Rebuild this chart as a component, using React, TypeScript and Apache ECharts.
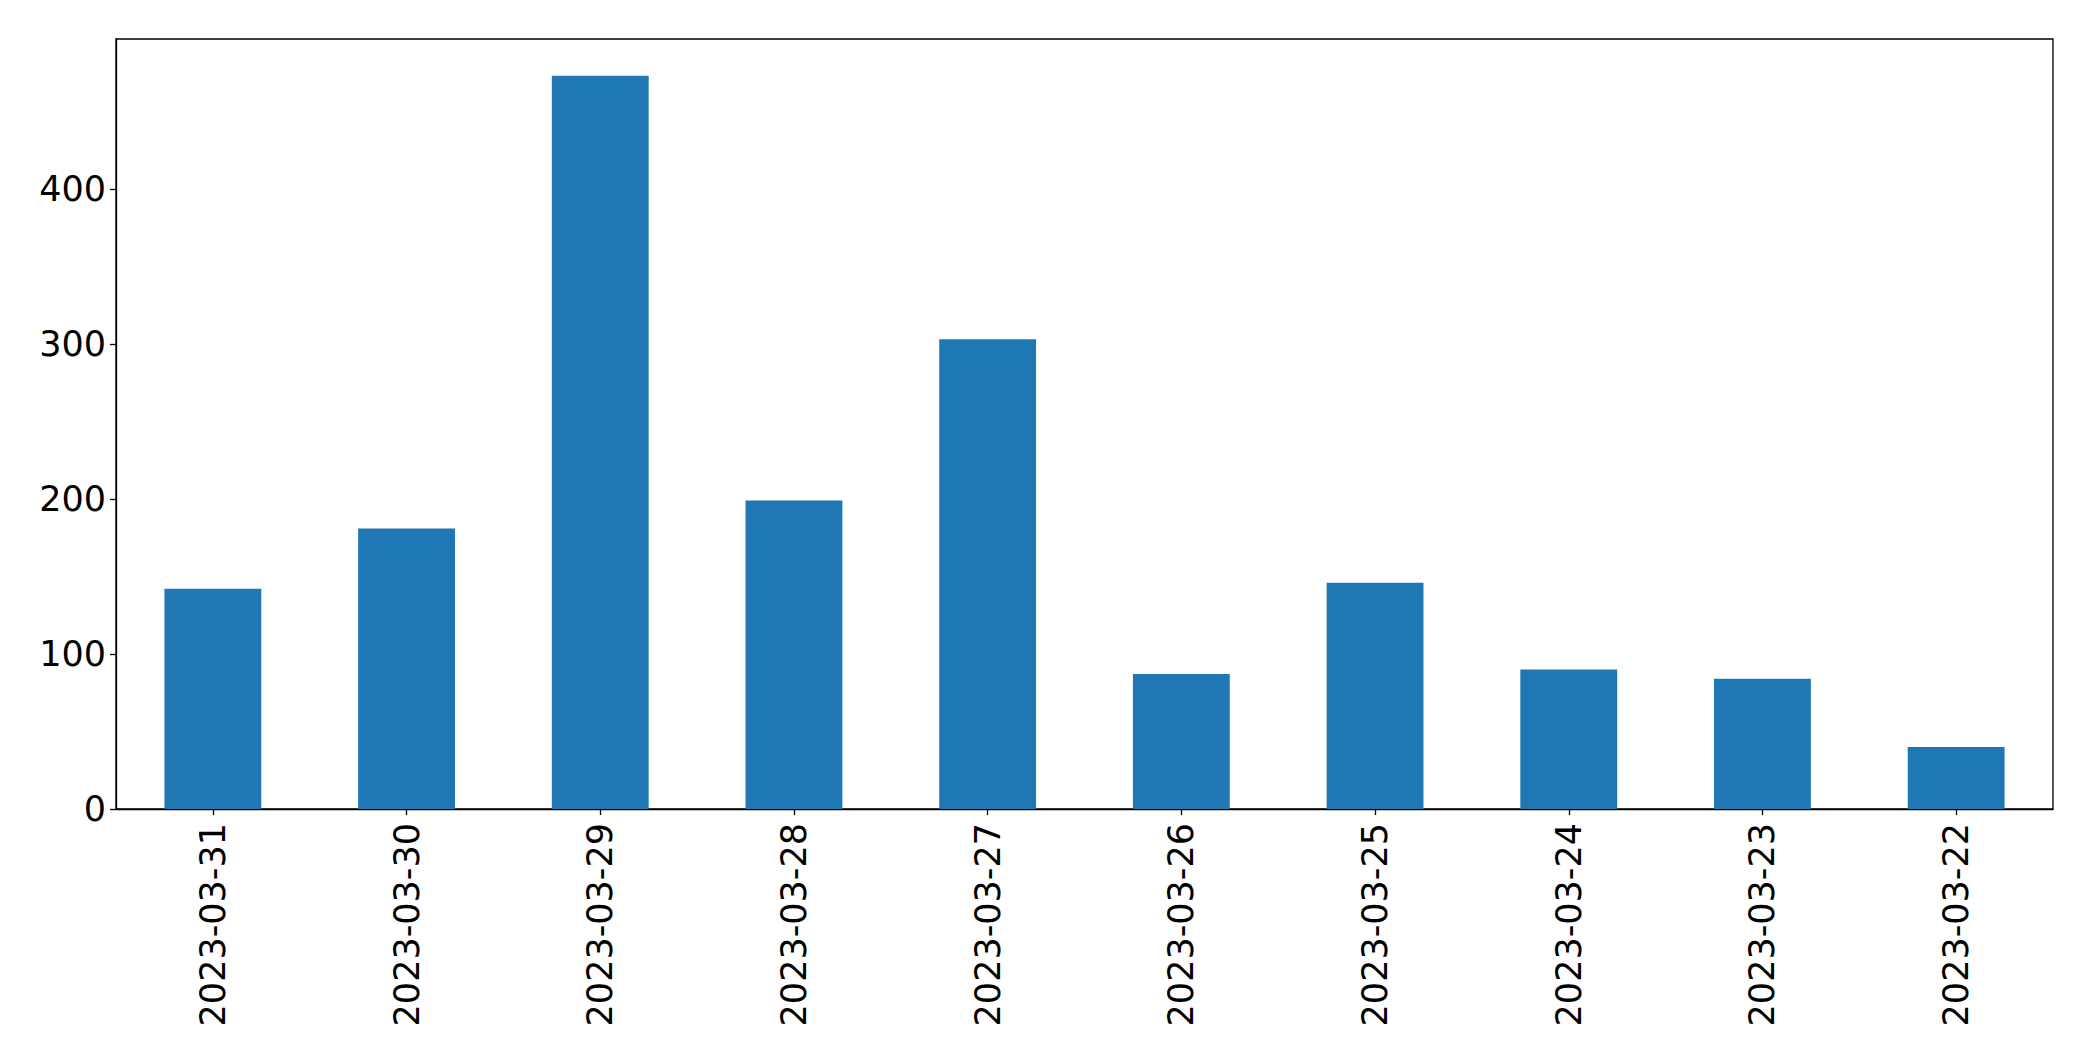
import React, { useEffect, useRef } from "react";
import * as echarts from "echarts";

const categories = [
  "2023-03-31",
  "2023-03-30",
  "2023-03-29",
  "2023-03-28",
  "2023-03-27",
  "2023-03-26",
  "2023-03-25",
  "2023-03-24",
  "2023-03-23",
  "2023-03-22",
];
const values = [142, 181, 473, 199, 303, 87, 146, 90, 84, 40];
const yTicks = [0, 100, 200, 300, 400];

export default function App() {
  const ref = useRef<HTMLDivElement>(null);
  useEffect(() => {
    if (!ref.current) return;
    const chart = echarts.init(ref.current, undefined, { renderer: "svg" });
    const yMax = Math.max(...values) * 1.05;
    chart.setOption({
      animation: false,
      backgroundColor: "#ffffff",
      textStyle: { fontFamily: "DejaVu Sans", color: "#000" },
      grid: {
        left: 116,
        right: 40,
        top: 39,
        bottom: 252,
        show: true,
        borderColor: "#000",
        borderWidth: 1.3,
        containLabel: false,
      },
      xAxis: {
        type: "category",
        data: categories,
        boundaryGap: true,
        axisLine: { show: true, lineStyle: { color: "#000", width: 1.3 } },
        axisTick: { show: true, alignWithLabel: true, length: 6, lineStyle: { color: "#000", width: 1.3 } },
        axisLabel: {
          rotate: 90,
          margin: 14,
          fontSize: 35,
          color: "#000",
          fontFamily: "DejaVu Sans",
          interval: 0,
        },
        splitLine: { show: false },
      },
      yAxis: {
        type: "value",
        min: 0,
        max: yMax,
        interval: 100,
        axisLine: { show: true, lineStyle: { color: "#000", width: 1.3 } },
        axisTick: { show: true, length: 6, lineStyle: { color: "#000", width: 1.3 } },
        axisLabel: {
          showMaxLabel: false,
          margin: 10,
          fontSize: 35,
          color: "#000",
          fontFamily: "DejaVu Sans",
          formatter: (v: number) => (yTicks.includes(v) ? String(v) : ""),
        },
        splitLine: { show: false },
      },
      series: [
        {
          type: "bar",
          data: values,
          barWidth: "50%",
          itemStyle: { color: "#1f77b4" },
        },
      ],
    });
    return () => chart.dispose();
  }, []);
  return (
    <div
      ref={ref}
      style={{ position: "fixed", left: 0, top: 0, width: 2093, height: 1061, background: "#fff" }}
    />
  );
}
